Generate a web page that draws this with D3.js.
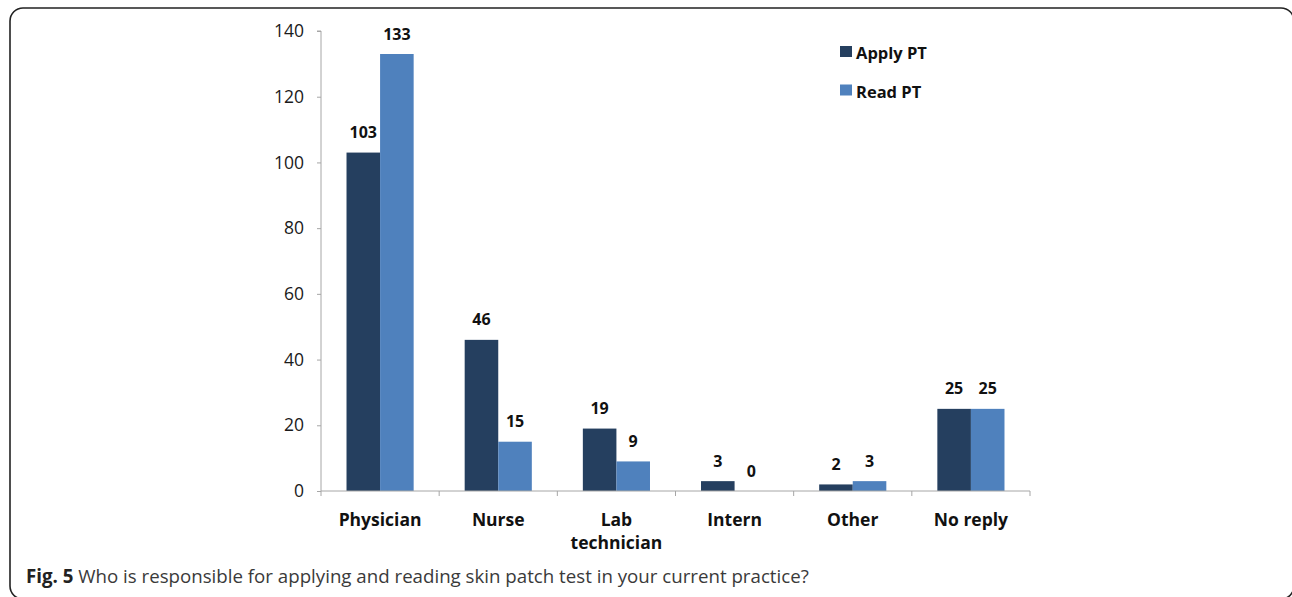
<!DOCTYPE html>
<html>
<head>
<meta charset="utf-8">
<script src="https://cdn.jsdelivr.net/npm/d3@7"></script>
<style>
  body { margin: 0; background: #fff; }
  svg { display: block; font-family: "Open Sans", "Liberation Sans", sans-serif; }
</style>
</head>
<body>
<svg id="chart" width="1292" height="597"></svg>
<script>
// Data
var categories = ['Physician', 'Nurse', 'Lab technician', 'Intern', 'Other', 'No reply']
var applyPT = [103, 46, 19, 3, 2, 25]
var readPT = [133, 15, 9, 0, 3, 25]
var seriesNames = ['Apply PT', 'Read PT']
var yTicks = [0, 20, 40, 60, 80, 100, 120, 140]

var colors = ['#253f5f', '#4f81bd']
var width = 1292,
    height = 597
var margin = { left: 321, right: 262, top: 31, bottom: 106 }

var svg = d3.select('#chart')

// Frame around the figure (right and bottom edges run off the page)
svg.append('rect')
  .attr('x', 10)
  .attr('y', 8)
  .attr('width', 1284)
  .attr('height', 591)
  .attr('rx', 13)
  .attr('fill', 'none')
  .attr('stroke', '#222')
  .attr('stroke-width', 1.6)

var x = d3.scaleBand()
  .domain(categories)
  .range([margin.left, width - margin.right])
  .paddingInner(0)

var xSub = d3.scaleBand()
  .domain(seriesNames)
  .range([0, x.bandwidth()])
  .paddingOuter(0.76)
  .paddingInner(0)

var y = d3.scaleLinear()
  .domain([0, 140])
  .range([height - margin.bottom, margin.top])

// Y axis
var yAxis = svg.append('g')
  .attr('transform', 'translate(' + margin.left + ',0)')
  .call(d3.axisLeft(y).tickValues(yTicks).tickSize(4).tickPadding(13))
yAxis.select('.domain').attr('stroke', '#a6a6a6').attr('d', 'M-4,' + y(140) + 'H0V' + y(0))
yAxis.selectAll('.tick line').attr('stroke', '#a6a6a6')
yAxis.selectAll('.tick text')
  .attr('font-size', 17.5)
  .attr('fill', '#1a1a1a')
  .attr('font-family', '"Open Sans", sans-serif')

// Bars
var rows = categories.map(function (c, i) {
  return { cat: c, values: [applyPT[i], readPT[i]] }
})

var groups = svg.selectAll('g.cat')
  .data(rows)
  .enter()
  .append('g')
  .attr('class', 'cat')
  .attr('transform', function (d) { return 'translate(' + x(d.cat) + ',0)' })

groups.selectAll('rect')
  .data(function (d) { return d.values.map(function (v, j) { return { s: seriesNames[j], v: v, j: j } }) })
  .enter()
  .append('rect')
  .attr('x', function (d) { return xSub(d.s) })
  .attr('width', xSub.bandwidth())
  .attr('y', function (d) { return y(d.v) })
  .attr('height', function (d) { return y(0) - y(d.v) })
  .attr('fill', function (d) { return colors[d.j] })

groups.selectAll('text.val')
  .data(function (d) { return d.values.map(function (v, j) { return { s: seriesNames[j], v: v } }) })
  .enter()
  .append('text')
  .attr('class', 'val')
  .attr('x', function (d) { return xSub(d.s) + xSub.bandwidth() / 2 })
  .attr('y', function (d) { return y(d.v) - 14.5 })
  .attr('text-anchor', 'middle')
  .attr('font-size', 16)
  .attr('font-weight', 'bold')
  .attr('fill', '#111')
  .text(function (d) { return d.v })

// X axis line with ticks at category boundaries
var xAxis = svg.append('g')
xAxis.append('line')
  .attr('x1', margin.left)
  .attr('x2', width - margin.right)
  .attr('y1', y(0))
  .attr('y2', y(0))
  .attr('stroke', '#a6a6a6')
var bounds = categories.map(function (c) { return x(c) }).concat([x.range()[1]])
xAxis.selectAll('line.tk')
  .data(bounds)
  .enter()
  .append('line')
  .attr('class', 'tk')
  .attr('x1', function (d) { return d })
  .attr('x2', function (d) { return d })
  .attr('y1', y(0))
  .attr('y2', y(0) + 5)
  .attr('stroke', '#a6a6a6')

// Category labels (wrapped)
var catLines = {
  'Lab technician': ['Lab', 'technician']
}
groups.append('text')
  .attr('text-anchor', 'middle')
  .attr('font-size', 17.5)
  .attr('font-weight', 'bold')
  .attr('fill', '#111')
  .each(function (d) {
    var lines = catLines[d.cat] || [d.cat]
    var t = d3.select(this)
    lines.forEach(function (l, k) {
      t.append('tspan')
        .attr('x', x.bandwidth() / 2)
        .attr('y', y(0) + 35 + k * 23)
        .text(l)
    })
  })

// Legend
var legend = svg.append('g').attr('transform', 'translate(840,46)')
seriesNames.forEach(function (s, i) {
  legend.append('rect')
    .attr('x', 0)
    .attr('y', i * 38.5)
    .attr('width', 12)
    .attr('height', 11)
    .attr('fill', colors[i])
  legend.append('text')
    .attr('x', 16)
    .attr('y', i * 38.5 + 13)
    .attr('font-size', 16.5)
    .attr('font-weight', 'bold')
    .attr('fill', '#111')
    .text(s)
})

// Caption
var cap = svg.append('text')
  .attr('x', 26)
  .attr('y', 583)
  .attr('font-size', 18.7)
  .attr('fill', '#3a3a3a')
cap.append('tspan').attr('font-weight', 'bold').attr('fill', '#222').text('Fig. 5')
cap.append('tspan').text(' Who is responsible for applying and reading skin patch test in your current practice?')
</script>
</body>
</html>
